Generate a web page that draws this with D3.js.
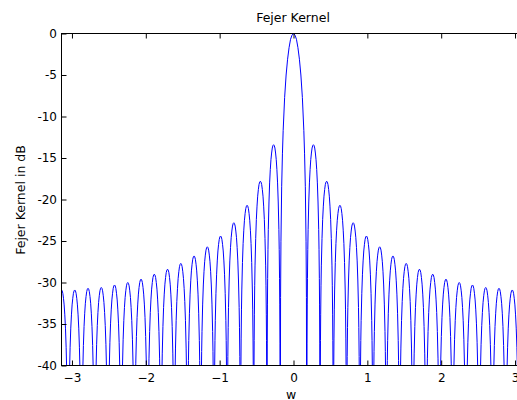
<!DOCTYPE html>
<html>
<head>
<meta charset="utf-8">
<script src="https://cdn.jsdelivr.net/npm/d3@7"></script>
<style>
  body { margin: 0; background: #fff; }
  svg { display: block; }
  text { font-family: "DejaVu Sans", sans-serif; fill: #000; }
</style>
</head>
<body>
<svg id="chart" width="517" height="400"></svg>
<script>
// ---- data ----
var xTicks = [-3, -2, -1, 0, 1, 2, 3]
var yTicks = [0, -5, -10, -15, -20, -25, -30, -35, -40]

// main lobe (right half, mirrored for the left half), w in rad, value in dB
var mainW  = [0, 0.02, 0.04, 0.06, 0.08, 0.10, 0.12, 0.14, 0.15, 0.16, 0.17, 0.175]
var mainDb = [0, -0.2, -0.7, -1.7, -3.1, -5.0, -7.7, -11.7, -14.5, -18.4, -25.1, -31.8]

// zeros between the side lobes, w >= 0 (the kernel is symmetric)
var nullW = [0.180, 0.359, 0.539, 0.718, 0.898, 1.077, 1.257, 1.436, 1.616, 1.795,
             1.975, 2.154, 2.334, 2.513, 2.693, 2.872, 3.052, 3.231]
// peak level of each side lobe, dB
var lobeDb = [-13.4, -17.8, -20.7, -22.8, -24.4, -25.7, -26.8, -27.7, -28.4, -29.0,
              -29.6, -30.0, -30.3, -30.6, -30.7, -30.9, -30.9]

// shape of one side lobe: position across the lobe (0..0.5) and drop below its peak, dB
var shapeT    = [0, 0.01, 0.02, 0.035, 0.05, 0.075, 0.1, 0.15, 0.2, 0.25, 0.3, 0.35, 0.4, 0.45, 0.5]
var shapeDrop = [-45, -30.1, -24.0, -19.2, -16.1, -12.6, -10.2, -6.9, -4.6, -3.0, -1.8, -1.0, -0.4, -0.1, 0]

// ---- build the curve points ----
var half = []
mainW.forEach((w, i) => half.push([w, mainDb[i]]))
lobeDb.forEach((pk, k) => {
    var a = nullW[k], b = nullW[k + 1]
    var prof = shapeT.map((t, j) => [t, shapeDrop[j]])
    var full = prof.concat(prof.slice(0, -1).reverse().map(d => [1 - d[0], d[1]]))
    full.forEach(d => half.push([a + d[0] * (b - a), pk + d[1]]))
})
var pts = half.filter(d => d[0] > 0).map(d => [-d[0], d[1]]).reverse().concat(half)

// ---- layout ----
var svg = d3.select("#chart")
var x = d3.scaleLinear().domain([-Math.PI, Math.PI]).range([61.5, 525.5])
var y = d3.scaleLinear().domain([-40, 0]).range([365.5, 33.5])

svg.append("clipPath").attr("id", "plotclip").append("rect")
    .attr("x", x.range()[0]).attr("y", y.range()[1])
    .attr("width", x.range()[1] - x.range()[0]).attr("height", y.range()[0] - y.range()[1])

svg.append("path").datum(pts)
    .attr("clip-path", "url(#plotclip)")
    .attr("fill", "none").attr("stroke", "#0000ff").attr("stroke-width", 1)
    .attr("d", d3.line().x(d => x(d[0])).y(d => y(d[1])))

// box
svg.append("rect")
    .attr("x", x.range()[0]).attr("y", y.range()[1])
    .attr("width", x.range()[1] - x.range()[0]).attr("height", y.range()[0] - y.range()[1])
    .attr("fill", "none").attr("stroke", "#000").attr("stroke-width", 1)

// axes, ticks pointing inwards like matlab
var gx = svg.append("g").attr("transform", "translate(0," + y.range()[0] + ")")
    .call(d3.axisBottom(x).tickValues(xTicks).tickSize(-5).tickPadding(8).tickFormat(d3.format("d")))
var gxt = svg.append("g").attr("transform", "translate(0," + y.range()[1] + ")")
    .call(d3.axisTop(x).tickValues(xTicks).tickSize(-5).tickFormat(""))
var gy = svg.append("g").attr("transform", "translate(" + x.range()[0] + ",0)")
    .call(d3.axisLeft(y).tickValues(yTicks).tickSize(-5).tickPadding(4.5).tickFormat(d => d == 0 ? "0" : "-" + Math.abs(d)))
;[gx, gxt, gy].forEach(g => {
    g.select(".domain").remove()
    g.selectAll("line").attr("stroke", "#000")
    g.selectAll("text").attr("font-size", 12).attr("font-family", "DejaVu Sans").attr("fill", "#000")
})

// labels
svg.append("text").attr("x", 293).attr("y", 21.5).attr("text-anchor", "middle")
    .attr("font-size", 12.5).text("Fejer Kernel")
svg.append("text").attr("x", 291).attr("y", 398.5).attr("text-anchor", "middle")
    .attr("font-size", 12.5).text("w")
svg.append("text").attr("transform", "translate(25,200) rotate(-90)").attr("text-anchor", "middle")
    .attr("font-size", 12.5).text("Fejer Kernel in dB")
</script>
</body>
</html>
